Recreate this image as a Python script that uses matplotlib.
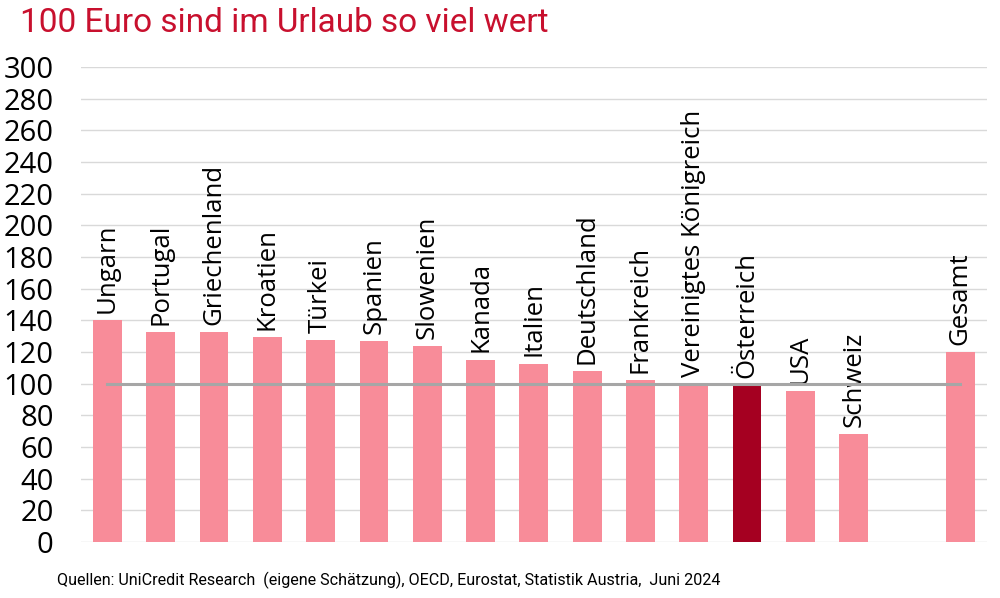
import matplotlib.pyplot as plt

countries = ["Ungarn", "Portugal", "Griechenland", "Kroatien", "Türkei", "Spanien",
             "Slowenien", "Kanada", "Italien", "Deutschland", "Frankreich",
             "Vereinigtes Königreich", "Österreich", "USA", "Schweiz", "", "Gesamt"]
values = [140, 132.7, 132.7, 129.3, 127.4, 126.8, 123.6, 115.2, 112.7, 108.2,
          102.3, 100.0, 99.2, 95.4, 68.2, None, 120.0]
highlight = "Österreich"

pink = "#f88c99"
dark = "#a50021"

plt.rcParams['font.family'] = ['Open Sans', 'DejaVu Sans']

fig = plt.figure(figsize=(10, 5.98), dpi=100)
ax = fig.add_axes([0.0807, 0.0936, 0.9063, 0.7944])

for i, (c, v) in enumerate(zip(countries, values)):
    if v is None:
        continue
    ax.bar(i, v, width=0.54, color=dark if c == highlight else pink, zorder=2)
    ax.text(i, v + 4.5, c, rotation=90, ha="center", va="bottom", fontsize=18.5,
            color="black", zorder=3)

# reference line at 100
ax.plot([0, len(countries) - 1], [100, 100], color="#a6a6a6", lw=2.2, zorder=3)

ax.set_xlim(-0.5, len(countries) - 0.5)
ax.set_ylim(0, 300)
ax.set_yticks(range(0, 301, 20))
ax.set_xticks([])
ax.grid(axis="y", color="#d9d9d9", lw=1, zorder=0)
for s in ax.spines.values():
    s.set_visible(False)
ax.tick_params(axis="y", length=0, pad=19.5, labelsize=21)

fig.text(0.02, 0.962, "100 Euro sind im Urlaub so viel wert", color="#c8102e",
         fontsize=24, va="center", ha="left", family=["Roboto", "DejaVu Sans"])
fig.text(0.057, 0.03, "Quellen: UniCredit Research  (eigene Schätzung), OECD, Eurostat, Statistik Austria,  Juni 2024",
         fontsize=11.6, va="center", ha="left", family=["Roboto", "DejaVu Sans"])

fig.savefig("out.png", dpi=100)
